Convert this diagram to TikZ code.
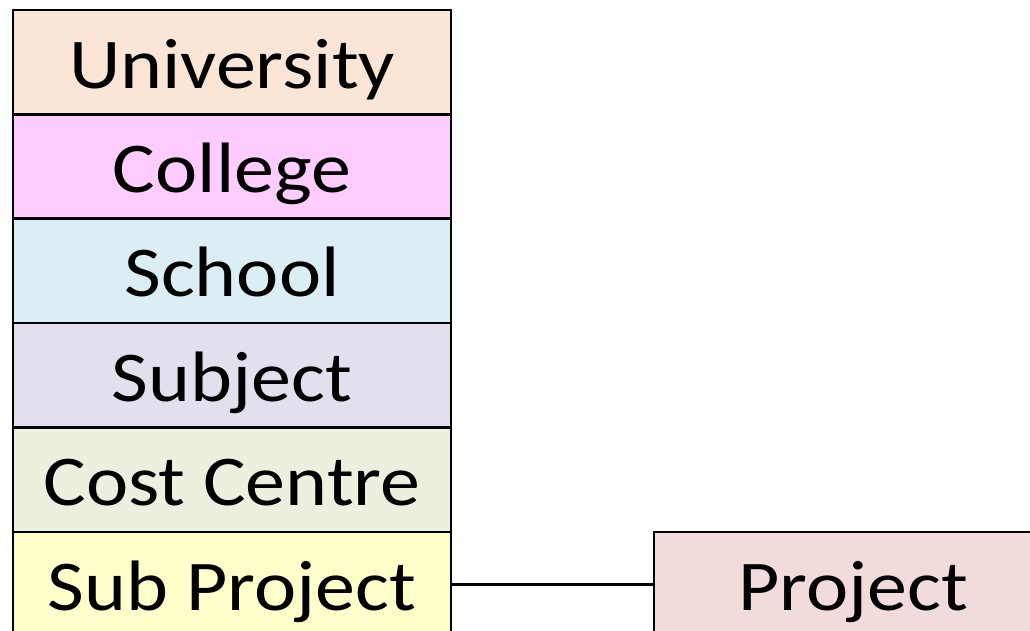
\documentclass[tikz,border=0pt]{standalone}
\usepackage{fontspec}
\setmainfont{Carlito}[FakeStretch=1.12]
\usetikzlibrary{positioning}
\definecolor{cuniv}{HTML}{FBE5D6}
\definecolor{ccoll}{HTML}{FFCCFF}
\definecolor{cschool}{HTML}{DAEEF3}
\definecolor{csubj}{HTML}{E4DFEC}
\definecolor{ccost}{HTML}{EBF1DE}
\definecolor{csub}{HTML}{FFFFCC}
\definecolor{cproj}{HTML}{F2DCDB}

\begin{document}
\begin{tikzpicture}[x=.5pt,y=-.5pt,
  lvl/.style={draw,line width=1.3pt,outer sep=0pt,inner sep=0pt,
    minimum width=219pt,minimum height=52.2pt,
    text height=26pt,text depth=0pt,font=\fontsize{35.7}{40}\selectfont}]
\useasboundingbox (0,0) rectangle (1030,631);
\foreach \nm/\txt/\col [count=\i from 0] in {univ/University/cuniv, coll/College/ccoll,
    school/School/cschool, subj/Subject/csubj, cost/Cost Centre/ccost, sub/Sub Project/csub}
  \node[lvl,fill=\col] (\nm) at (232,62.2+104.4*\i) {\txt};
\node[lvl,fill=cproj,minimum width=199pt,right=101.5pt of sub] (proj) {Project};
\draw[line width=1.4pt] (sub) -- (proj);
\end{tikzpicture}
\end{document}
